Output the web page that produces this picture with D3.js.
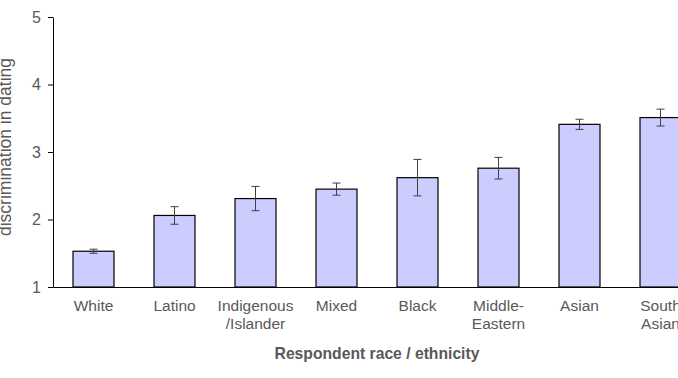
<!DOCTYPE html>
<html lang="en">
  <head>
    <meta charset="UTF-8">
    <title>Discrimination in dating by race / ethnicity</title>
    <style>
      body { margin: 0; background: #fff; }
      svg { display: block; font-family: "Liberation Sans", Arial, sans-serif; }
    </style>
  </head>
  <body>
    <div id="chart"></div>
    <script src="https://d3js.org/d3.v7.min.js"></script>
    <script>
      // data
      const categories = ["White", "Latino", "Indigenous/Islander", "Mixed", "Black", "Middle-Eastern", "Asian", "South Asian"];
      const tickLabels = [["White"], ["Latino"], ["Indigenous", "/Islander"], ["Mixed"], ["Black"], ["Middle-", "Eastern"], ["Asian"], ["South", "Asian"]];
      const means = [1.53, 2.06, 2.31, 2.45, 2.62, 2.76, 3.41, 3.51];
      const errors = [0.03, 0.13, 0.18, 0.09, 0.27, 0.16, 0.075, 0.125];
      const yTicks = [1, 2, 3, 4, 5];

      const width = 678, height = 378;
      const margin = { top: 17, left: 53, bottom: 91 };
      const plotRight = 701; // chart runs off the right edge

      const svg = d3.select("#chart").append("svg")
          .attr("width", width)
          .attr("height", height);

      const x = d3.scaleBand()
          .domain(categories)
          .range([margin.left, plotRight])
          .paddingInner(0.494)
          .paddingOuter(0.247);

      const y = d3.scaleLinear()
          .domain([1, 5])
          .range([height - margin.bottom, margin.top]);

      const grey = "#595959";

      // bars
      svg.selectAll("rect.bar")
          .data(categories)
          .enter()
          .append("rect")
          .attr("class", "bar")
          .attr("x", d => x(d))
          .attr("y", (d, i) => y(means[i]))
          .attr("width", x.bandwidth())
          .attr("height", (d, i) => y(1) - y(means[i]))
          .attr("fill", "#ccccff")
          .attr("stroke", "#000")
          .attr("stroke-width", 1.2);

      // error bars
      const err = svg.selectAll("g.err")
          .data(categories)
          .enter()
          .append("g")
          .attr("class", "err")
          .attr("stroke", "#404040")
          .attr("stroke-width", 1);
      err.append("line")
          .attr("x1", d => x(d) + x.bandwidth() / 2)
          .attr("x2", d => x(d) + x.bandwidth() / 2)
          .attr("y1", (d, i) => y(means[i] + errors[i]))
          .attr("y2", (d, i) => y(means[i] - errors[i]));
      [1, -1].forEach(s => {
        err.append("line")
            .attr("x1", d => x(d) + x.bandwidth() / 2 - 4)
            .attr("x2", d => x(d) + x.bandwidth() / 2 + 4)
            .attr("y1", (d, i) => y(means[i] + s * errors[i]))
            .attr("y2", (d, i) => y(means[i] + s * errors[i]));
      });

      // y axis
      const yAxis = svg.append("g")
          .attr("transform", "translate(" + margin.left + ",0)")
          .call(d3.axisLeft(y).tickValues(yTicks).tickFormat(d3.format("d")).tickSize(5).tickSizeOuter(0).tickPadding(7));
      yAxis.select(".domain").attr("stroke", "#000");
      yAxis.selectAll(".tick line").attr("stroke", "#000");
      yAxis.selectAll(".tick text")
          .attr("fill", grey)
          .style("font-size", "16px")
          .style("font-family", "'Liberation Sans', Arial, sans-serif");

      // x axis
      const xAxis = svg.append("g")
          .attr("transform", "translate(0," + y(1) + ")")
          .call(d3.axisBottom(x).tickSize(0).tickSizeOuter(0).tickFormat(""));
      xAxis.select(".domain").attr("stroke", "#000").attr("stroke-width", 1.2);

      // category labels, split over lines
      xAxis.selectAll(".tick text").remove();
      xAxis.selectAll(".tick")
          .append("text")
          .attr("fill", grey)
          .attr("text-anchor", "middle")
          .style("font-size", "15.5px")
          .style("font-family", "'Liberation Sans', Arial, sans-serif")
          .each(function(d, i) {
            const t = d3.select(this);
            tickLabels[i].forEach((line, k) => {
              t.append("tspan")
                  .attr("x", 0)
                  .attr("y", 24 + k * 18)
                  .text(line);
            });
          });

      // axis titles
      svg.append("text")
          .attr("x", (margin.left + plotRight) / 2)
          .attr("y", 359)
          .attr("text-anchor", "middle")
          .attr("fill", grey)
          .style("font-size", "15.7px")
          .style("font-weight", "bold")
          .text("Respondent race / ethnicity");

      svg.append("text")
          .attr("transform", "translate(11," + 147 + ") rotate(-90)")
          .attr("text-anchor", "middle")
          .attr("fill", grey)
          .style("font-size", "17.5px")
          .text("discrimination in dating");
    </script>
  </body>
</html>
